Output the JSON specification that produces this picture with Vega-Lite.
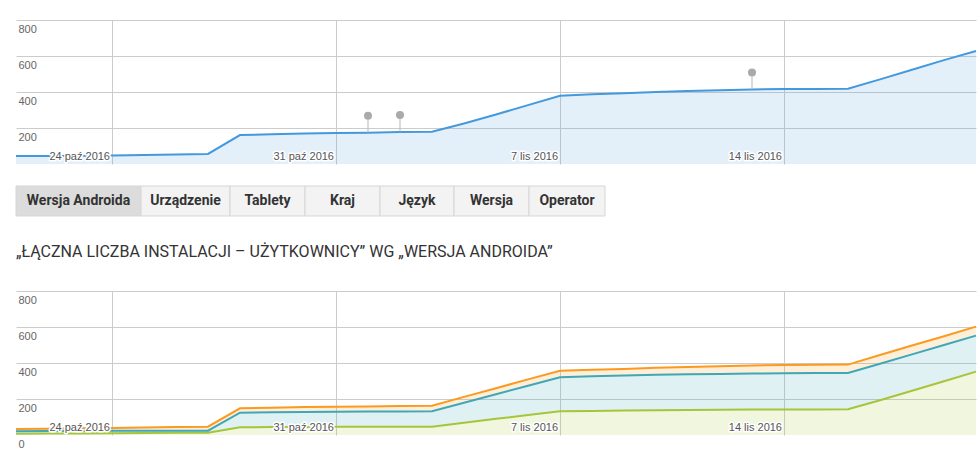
{
  "$schema": "https://vega.github.io/schema/vega-lite/v6.json",
  "padding": {"left": 12, "top": 20, "right": 2, "bottom": 0},
  "spacing": 21,
  "config": {"view": {"stroke": null}, "font": "Liberation Sans"},
  "datasets": {
    "top": [
      {"date": "2016-10-21", "uzytkownicy": 44},
      {"date": "2016-10-22", "uzytkownicy": 45},
      {"date": "2016-10-23", "uzytkownicy": 46},
      {"date": "2016-10-24", "uzytkownicy": 47},
      {"date": "2016-10-25", "uzytkownicy": 50},
      {"date": "2016-10-26", "uzytkownicy": 53},
      {"date": "2016-10-27", "uzytkownicy": 56},
      {"date": "2016-10-28", "uzytkownicy": 161},
      {"date": "2016-10-29", "uzytkownicy": 165},
      {"date": "2016-10-30", "uzytkownicy": 169},
      {"date": "2016-10-31", "uzytkownicy": 172},
      {"date": "2016-11-01", "uzytkownicy": 174},
      {"date": "2016-11-02", "uzytkownicy": 178},
      {"date": "2016-11-03", "uzytkownicy": 179},
      {"date": "2016-11-04", "uzytkownicy": 225},
      {"date": "2016-11-05", "uzytkownicy": 275},
      {"date": "2016-11-06", "uzytkownicy": 327},
      {"date": "2016-11-07", "uzytkownicy": 379},
      {"date": "2016-11-08", "uzytkownicy": 387},
      {"date": "2016-11-09", "uzytkownicy": 393},
      {"date": "2016-11-10", "uzytkownicy": 400},
      {"date": "2016-11-11", "uzytkownicy": 405},
      {"date": "2016-11-12", "uzytkownicy": 410},
      {"date": "2016-11-13", "uzytkownicy": 414},
      {"date": "2016-11-14", "uzytkownicy": 416},
      {"date": "2016-11-15", "uzytkownicy": 417},
      {"date": "2016-11-16", "uzytkownicy": 418},
      {"date": "2016-11-17", "uzytkownicy": 470},
      {"date": "2016-11-18", "uzytkownicy": 524},
      {"date": "2016-11-19", "uzytkownicy": 577},
      {"date": "2016-11-20", "uzytkownicy": 628}
    ],
    "pins": [
      {"date": "2016-11-01", "uzytkownicy": 174},
      {"date": "2016-11-02", "uzytkownicy": 178},
      {"date": "2016-11-13", "uzytkownicy": 414}
    ],
    "ticks": [
      {"date": "2016-10-24", "label": "24 paź 2016"},
      {"date": "2016-10-31", "label": "31 paź 2016"},
      {"date": "2016-11-07", "label": "7 lis 2016"},
      {"date": "2016-11-14", "label": "14 lis 2016"}
    ],
    "tabs": [
      {"i": 1, "zakladka": "Wersja Androida", "szerokosc": 125},
      {"i": 2, "zakladka": "Urządzenie", "szerokosc": 89},
      {"i": 3, "zakladka": "Tablety", "szerokosc": 75},
      {"i": 4, "zakladka": "Kraj", "szerokosc": 75},
      {"i": 5, "zakladka": "Język", "szerokosc": 74},
      {"i": 6, "zakladka": "Wersja", "szerokosc": 75},
      {"i": 7, "zakladka": "Operator", "szerokosc": 76}
    ],
    "bottom": [
      {"date": "2016-10-21", "seria 1": 7, "seria 2": 14, "seria 3": 12},
      {"date": "2016-10-22", "seria 1": 8, "seria 2": 14, "seria 3": 13},
      {"date": "2016-10-23", "seria 1": 9, "seria 2": 13, "seria 3": 15},
      {"date": "2016-10-24", "seria 1": 10, "seria 2": 13, "seria 3": 16},
      {"date": "2016-10-25", "seria 1": 11, "seria 2": 12, "seria 3": 19},
      {"date": "2016-10-26", "seria 1": 12, "seria 2": 12, "seria 3": 20},
      {"date": "2016-10-27", "seria 1": 13, "seria 2": 11, "seria 3": 22},
      {"date": "2016-10-28", "seria 1": 43, "seria 2": 81, "seria 3": 24},
      {"date": "2016-10-29", "seria 1": 44, "seria 2": 82, "seria 3": 26},
      {"date": "2016-10-30", "seria 1": 45, "seria 2": 83, "seria 3": 27},
      {"date": "2016-10-31", "seria 1": 46, "seria 2": 83, "seria 3": 28},
      {"date": "2016-11-01", "seria 1": 46, "seria 2": 84, "seria 3": 29},
      {"date": "2016-11-02", "seria 1": 46, "seria 2": 85, "seria 3": 30},
      {"date": "2016-11-03", "seria 1": 46, "seria 2": 86, "seria 3": 31},
      {"date": "2016-11-04", "seria 1": 68, "seria 2": 111, "seria 3": 33},
      {"date": "2016-11-05", "seria 1": 90, "seria 2": 136, "seria 3": 34},
      {"date": "2016-11-06", "seria 1": 111, "seria 2": 163, "seria 3": 35},
      {"date": "2016-11-07", "seria 1": 132, "seria 2": 189, "seria 3": 36},
      {"date": "2016-11-08", "seria 1": 134, "seria 2": 192, "seria 3": 36},
      {"date": "2016-11-09", "seria 1": 136, "seria 2": 194, "seria 3": 37},
      {"date": "2016-11-10", "seria 1": 138, "seria 2": 197, "seria 3": 39},
      {"date": "2016-11-11", "seria 1": 139, "seria 2": 198, "seria 3": 41},
      {"date": "2016-11-12", "seria 1": 140, "seria 2": 199, "seria 3": 43},
      {"date": "2016-11-13", "seria 1": 141, "seria 2": 200, "seria 3": 45},
      {"date": "2016-11-14", "seria 1": 142, "seria 2": 201, "seria 3": 46},
      {"date": "2016-11-15", "seria 1": 142, "seria 2": 202, "seria 3": 46},
      {"date": "2016-11-16", "seria 1": 143, "seria 2": 201, "seria 3": 47},
      {"date": "2016-11-17", "seria 1": 193, "seria 2": 203, "seria 3": 48},
      {"date": "2016-11-18", "seria 1": 246, "seria 2": 202, "seria 3": 49},
      {"date": "2016-11-19", "seria 1": 299, "seria 2": 201, "seria 3": 49},
      {"date": "2016-11-20", "seria 1": 352, "seria 2": 200, "seria 3": 50}
    ]
  },
  "vconcat": [
    {
      "width": 960,
      "height": 144,
      "layer": [
        {
          "data": {"name": "top"},
          "mark": {"type": "area", "color": "#4499dd", "fillOpacity": 0.15},
          "encoding": {
            "x": {
              "field": "date", "type": "temporal",
              "scale": {"type": "utc", "domain": [{"year": 2016, "month": 10, "date": 21, "utc": true}, {"year": 2016, "month": 11, "date": 20, "utc": true}]},
              "axis": {
                "values": [{"year": 2016, "month": 10, "date": 24, "utc": true}, {"year": 2016, "month": 10, "date": 31, "utc": true}, {"year": 2016, "month": 11, "date": 7, "utc": true}, {"year": 2016, "month": 11, "date": 14, "utc": true}],
                "tickCount": 10, "grid": true, "gridColor": "#cccccc", "labels": false, "ticks": false, "domain": false, "title": null
              }
            },
            "y": {
              "field": "uzytkownicy", "type": "quantitative",
              "scale": {"domain": [0, 800], "nice": false},
              "axis": {
                "values": [200, 400, 600, 800], "tickCount": 10, "grid": true, "gridColor": "#cccccc", "domain": false, "ticks": false, "tickSize": 0,
                "labelAlign": "left", "labelBaseline": "top", "labelPadding": -2, "labelOffset": 3, "labelOverlap": false, "labelBound": false,
                "labelColor": "#666666", "labelFontSize": 11, "labelFont": "Liberation Sans", "title": null
              }
            }
          }
        },
        {
          "data": {"name": "top"},
          "mark": {"type": "line", "color": "#4499dd", "strokeWidth": 2},
          "encoding": {
            "x": {"field": "date", "type": "temporal", "scale": {"type": "utc"}},
            "y": {"field": "uzytkownicy", "type": "quantitative"}
          }
        },
        {
          "data": {"name": "pins"},
          "mark": {"type": "rule", "color": "#b5b5b5", "strokeWidth": 1, "y2Offset": -13},
          "encoding": {
            "x": {"field": "date", "type": "temporal", "scale": {"type": "utc"}},
            "y": {"field": "uzytkownicy", "type": "quantitative"},
            "y2": {"field": "uzytkownicy"}
          }
        },
        {
          "data": {"name": "pins"},
          "mark": {"type": "circle", "color": "#aaaaaa", "opacity": 1, "size": 64, "yOffset": -17},
          "encoding": {
            "x": {"field": "date", "type": "temporal", "scale": {"type": "utc"}},
            "y": {"field": "uzytkownicy", "type": "quantitative"}
          }
        },
        {
          "data": {"name": "ticks"},
          "mark": {"type": "text", "align": "right", "baseline": "bottom", "dx": -2, "dy": -2, "fontSize": 11, "font": "Liberation Sans", "fill": "white", "stroke": "white", "strokeWidth": 3, "strokeJoin": "round"},
          "encoding": {
            "x": {"field": "date", "type": "temporal", "scale": {"type": "utc"}},
            "y": {"datum": 0, "type": "quantitative"},
            "text": {"field": "label"}
          }
        },
        {
          "data": {"name": "ticks"},
          "mark": {"type": "text", "align": "right", "baseline": "bottom", "dx": -2, "dy": -2, "fontSize": 11, "font": "Liberation Sans", "color": "#555555"},
          "encoding": {
            "x": {"field": "date", "type": "temporal", "scale": {"type": "utc"}},
            "y": {"datum": 0, "type": "quantitative"},
            "text": {"field": "label"}
          }
        }
      ]
    },
    {
      "width": 589,
      "height": 37,
      "data": {"name": "tabs"},
      "layer": [
        {
          "mark": {"type": "bar", "stroke": "#d6d6d6", "strokeWidth": 1},
          "encoding": {
            "x": {"field": "szerokosc", "type": "quantitative", "stack": "zero", "scale": {"domain": [0, 589], "nice": false}, "axis": null},
            "y": {"datum": "zakladki", "type": "nominal", "scale": {"paddingInner": 0, "paddingOuter": 0.1167, "align": 0}, "axis": null},
            "detail": {"field": "zakladka"},
            "order": {"field": "i", "type": "quantitative"},
            "fill": {"condition": {"test": "datum.zakladka === 'Wersja Androida'", "value": "#dcdcdc"}, "value": "#f3f3f3"}
          }
        },
        {
          "mark": {"type": "text", "font": "Roboto", "fontWeight": "bold", "fontSize": 14, "color": "#333333"},
          "encoding": {
            "x": {"field": "szerokosc", "type": "quantitative", "stack": "zero", "bandPosition": 0.5},
            "y": {"datum": "zakladki", "type": "nominal"},
            "detail": {"field": "zakladka"},
            "order": {"field": "i", "type": "quantitative"},
            "text": {"field": "zakladka"}
          }
        }
      ]
    },
    {
      "width": 960,
      "height": 144,
      "title": {
        "text": "„ŁĄCZNA LICZBA INSTALACJI – UŻYTKOWNICY” WG „WERSJA ANDROIDA”",
        "anchor": "start", "frame": "group", "font": "Roboto", "fontSize": 16, "fontWeight": "normal",
        "color": "#333333", "offset": 31
      },
      "layer": [
        {
          "data": {"name": "bottom"},
          "transform": [{"fold": ["seria 1", "seria 2", "seria 3"], "as": ["wersja", "uzytkownicy"]}],
          "mark": {"type": "area", "fillOpacity": 0.16},
          "encoding": {
            "x": {
              "field": "date", "type": "temporal",
              "scale": {"type": "utc", "domain": [{"year": 2016, "month": 10, "date": 21, "utc": true}, {"year": 2016, "month": 11, "date": 20, "utc": true}]},
              "axis": {
                "values": [{"year": 2016, "month": 10, "date": 24, "utc": true}, {"year": 2016, "month": 10, "date": 31, "utc": true}, {"year": 2016, "month": 11, "date": 7, "utc": true}, {"year": 2016, "month": 11, "date": 14, "utc": true}],
                "tickCount": 10, "grid": true, "gridColor": "#cccccc", "labels": false, "ticks": false, "domain": false, "title": null
              }
            },
            "y": {
              "field": "uzytkownicy", "type": "quantitative", "stack": "zero",
              "scale": {"domain": [0, 800], "nice": false},
              "axis": {
                "values": [0, 200, 400, 600, 800], "tickCount": 10, "grid": true, "gridColor": "#cccccc",
                "gridOpacity": {"condition": {"test": "datum.value === 0", "value": 0}, "value": 1},
                "domain": false, "ticks": false, "tickSize": 0,
                "labelAlign": "left", "labelBaseline": "top", "labelPadding": -2, "labelOffset": 3, "labelOverlap": false, "labelBound": false,
                "labelColor": "#666666", "labelFontSize": 11, "labelFont": "Liberation Sans", "title": null
              }
            },
            "color": {"field": "wersja", "type": "nominal", "scale": {"domain": ["seria 1", "seria 2", "seria 3"], "range": ["#a5c53a", "#3fa7b5", "#fb9a20"]}, "legend": null},
            "order": {"field": "wersja", "sort": "ascending"}
          }
        },
        {
          "data": {"name": "bottom"},
          "transform": [{"fold": ["seria 1", "seria 2", "seria 3"], "as": ["wersja", "uzytkownicy"]}],
          "mark": {"type": "line", "strokeWidth": 2},
          "encoding": {
            "x": {"field": "date", "type": "temporal", "scale": {"type": "utc"}},
            "y": {"field": "uzytkownicy", "type": "quantitative", "stack": "zero"},
            "color": {"field": "wersja", "type": "nominal", "legend": null},
            "order": {"field": "wersja", "sort": "ascending"}
          }
        },
        {
          "data": {"name": "ticks"},
          "mark": {"type": "text", "align": "right", "baseline": "bottom", "dx": -2, "dy": -2, "fontSize": 11, "font": "Liberation Sans", "fill": "white", "stroke": "white", "strokeWidth": 3, "strokeJoin": "round"},
          "encoding": {
            "x": {"field": "date", "type": "temporal", "scale": {"type": "utc"}},
            "y": {"datum": 0, "type": "quantitative"},
            "text": {"field": "label"}
          }
        },
        {
          "data": {"name": "ticks"},
          "mark": {"type": "text", "align": "right", "baseline": "bottom", "dx": -2, "dy": -2, "fontSize": 11, "font": "Liberation Sans", "color": "#555555"},
          "encoding": {
            "x": {"field": "date", "type": "temporal", "scale": {"type": "utc"}},
            "y": {"datum": 0, "type": "quantitative"},
            "text": {"field": "label"}
          }
        }
      ]
    }
  ]
}
